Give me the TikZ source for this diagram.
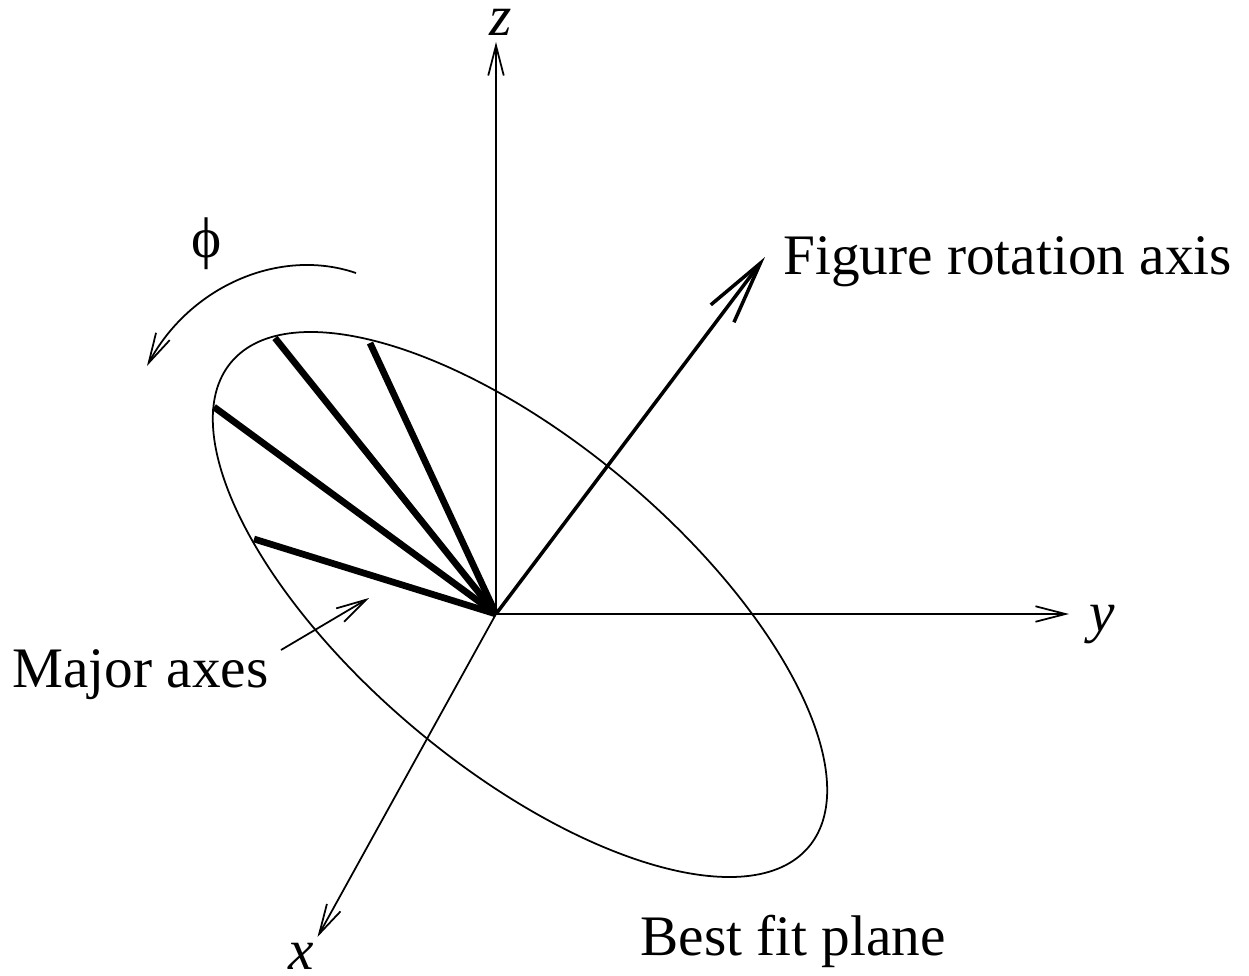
\documentclass[tikz,border=0pt]{standalone}
\usepackage{fontspec}
\setmainfont{Liberation Serif}
\usetikzlibrary{arrows.meta}

\begin{document}
\begin{tikzpicture}[scale=0.2,
    lbl/.style={anchor=base west, inner sep=0pt, font=\fontsize{32.6}{36}\selectfont},
    thin line/.style={line width=1pt},
    axis/.style={thin line, -{Straight Barb[length=0.6cm, width=0.31cm, line width=1pt]}},
    major/.style={line width=3.8pt}]
\useasboundingbox (0,0) rectangle (124.9,97.5);
\coordinate (O) at (49.6,36.1);
\coordinate (Z) at (49.6,93.3);
\coordinate (Y) at (106.9,36.1);
\coordinate (X) at (31.75,3.8);
\coordinate (R) at (76.5,71.8);
\coordinate (C) at (52,37.05);
\coordinate (M1) at (25.4,43.6);
\coordinate (M2) at (21.4,56.8);
\coordinate (M3) at (27.5,63.7);
\coordinate (M4) at (37,63.2);
\coordinate (P1) at (28.1,32.5);
\coordinate (P2) at (36.9,37.7);
\draw[thin line, shift={(C)}, rotate=-40] (0,0) ellipse (37.7 and 16.26);
\draw[axis] (O) -- (Z);
\draw[axis] (O) -- (Y);
\draw[axis] (O) -- (X);
\draw[line width=2pt, -{Straight Barb[length=1.26cm, width=0.58cm, line width=2pt]}] (O) -- (R);
\draw[major] (O) -- (M1);
\draw[major] (O) -- (M2);
\draw[major] (O) -- (M3);
\draw[major] (O) -- (M4);
\draw[axis] (P1) -- (P2);
\coordinate (A1) at (35.6,70.2);
\coordinate (A2) at (14.7,60.9);
\draw[axis] (A1) .. controls (28,72.8) and (19,68.9) .. (A2); % approx
\node[lbl] (zlabel) at (48.9,93.9) {\itshape z};
\node[lbl] (ylabel) at (108.9,34.4) {\itshape y};
\node[lbl] (xlabel) at (28.8,0.6) {\itshape x};
\node[lbl] (philabel) at (19.1,71.7) {ϕ};
\node[lbl] (rotlabel) at (78.3,70) {Figure rotation axis};
\node[lbl] (majlabel) at (1.2,28.8) {Major axes};
\node[lbl] (planelabel) at (64,2) {Best fit plane};
\end{tikzpicture}
\end{document}
